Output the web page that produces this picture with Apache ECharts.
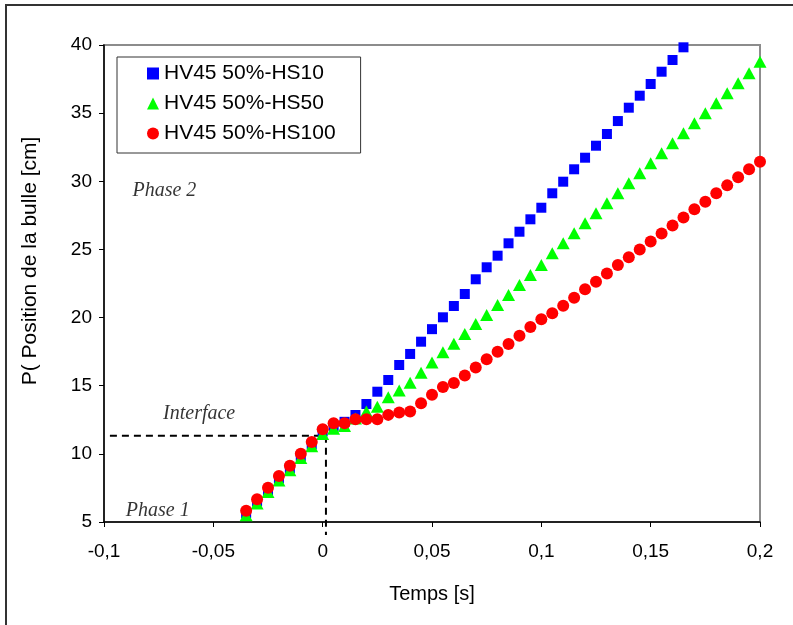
<!DOCTYPE html>
<html>
<head>
<meta charset="utf-8">
<script src="https://cdn.jsdelivr.net/npm/echarts@6/dist/echarts.min.js"></script>
<style>html,body{margin:0;padding:0;background:#fff;}#c{width:793px;height:625px;}</style>
</head>
<body>
<div id="c"></div>
<script>
// Time axis (s), shared by all series
const time = [-0.035,-0.030,-0.025,-0.020,-0.015,-0.010,-0.005,0.000,0.005,0.010,0.015,0.020,0.025,0.030,0.035,0.040,0.045,0.050,0.055,0.060,0.065,0.070,0.075,0.080,0.085,0.090,0.095,0.100,0.105,0.110,0.115,0.120,0.125,0.130,0.135,0.140,0.145,0.150,0.155,0.160,0.165,0.170,0.175,0.180,0.185,0.190,0.195,0.200];

const seriesNames = ['HV45 50%-HS10','HV45 50%-HS50','HV45 50%-HS100'];

// HV45 50%-HS10 (blue squares) – 41 points
const hs10 = [5.65,6.5,7.35,8.2,8.95,9.85,10.7,11.65,12.05,12.35,12.85,13.66,14.56,15.42,16.52,17.33,18.23,19.15,20.02,20.85,21.73,22.81,23.69,24.54,25.45,26.3,27.21,28.06,29.12,29.97,30.88,31.73,32.61,33.47,34.42,35.4,36.28,37.14,38.04,38.9,39.83];

// HV45 50%-HS50 (green triangles)
const hs50 = [5.5,6.35,7.2,8.05,8.8,9.7,10.55,11.45,11.85,12.05,12.6,13.1,13.45,14.15,14.64,15.22,15.96,16.7,17.46,18.07,18.8,19.53,20.19,20.93,21.66,22.39,23.13,23.86,24.72,25.45,26.19,26.92,27.65,28.39,29.12,29.85,30.59,31.32,32.05,32.79,33.52,34.26,34.99,35.72,36.46,37.19,37.92,38.78];

// HV45 50%-HS100 (red circles)
const hs100 = [5.83,6.67,7.52,8.38,9.12,10.0,10.87,11.8,12.24,12.24,12.54,12.54,12.54,12.86,13.03,13.1,13.72,14.33,14.9,15.2,15.75,16.33,16.94,17.5,18.06,18.67,19.3,19.87,20.31,20.87,21.45,22.07,22.63,23.24,23.85,24.42,25.0,25.58,26.17,26.76,27.35,27.94,28.5,29.12,29.7,30.29,30.88,31.44];

// Interface dashed guide lines
const interfaceT = 0.0015;
const interfaceY = 11.33;
const guideStartT = -0.0973;
const guideBottomY = 4.05;

// Annotation labels
const annotations = [
  {text: 'Phase 2', t: -0.087, y: 29.3},
  {text: 'Interface', t: -0.073, y: 12.95},
  {text: 'Phase 1', t: -0.090, y: 5.8}
];

const xTicks = {min: -0.1, max: 0.2, interval: 0.05};
const yTicks = {min: 5, max: 40, interval: 5};

const zip = (xs, ys) => ys.map((v, i) => [xs[i], v]);
const fmt = v => String(Math.round(v * 100) / 100).replace('.', ',');

const chart = echarts.init(document.getElementById('c'));
const sansFont = '"Liberation Sans", Arial, sans-serif';
const serifFont = '"Liberation Serif", "Times New Roman", serif';

const option = {
  animation: false,
  backgroundColor: '#fff',
  grid: {left: 104, right: 33, top: 45, bottom: 103, show: true, borderColor: '#8c8c8c', borderWidth: 2, backgroundColor: 'transparent'},
  xAxis: {
    type: 'value', min: xTicks.min, max: xTicks.max, interval: xTicks.interval,
    name: 'Temps [s]', nameLocation: 'middle', nameGap: 62,
    nameTextStyle: {fontFamily: sansFont, fontSize: 20, color: '#000'},
    axisLine: {show: true, onZero: false, lineStyle: {color: '#000', width: 1.5}},
    axisTick: {show: true, inside: false, length: 5, lineStyle: {color: '#000', width: 1}},
    axisLabel: {formatter: fmt, fontFamily: sansFont, fontSize: 19, color: '#000', margin: 20},
    splitLine: {show: false}
  },
  yAxis: {
    type: 'value', min: yTicks.min, max: yTicks.max, interval: yTicks.interval,
    axisLine: {show: true, onZero: false, lineStyle: {color: '#000', width: 1.5}},
    axisTick: {show: true, inside: false, length: 5, lineStyle: {color: '#000', width: 1}},
    axisLabel: {fontFamily: sansFont, fontSize: 19, color: '#000', margin: 12},
    splitLine: {show: false}
  },
  legend: {
    data: seriesNames,
    orient: 'vertical', left: 117, top: 57,
    backgroundColor: '#fff', borderColor: '#333', borderWidth: 1,
    padding: [6, 25, 9, 30],
    itemWidth: 12, itemHeight: 12, itemGap: 9,
    textStyle: {fontFamily: sansFont, fontSize: 21, color: '#000', lineHeight: 20}
  },
  graphic: [
    {type: 'rect', shape: {x: 6, y: 5, width: 900, height: 800}, style: {fill: 'none', stroke: '#333', lineWidth: 2}, z: -10, silent: true},
    {type: 'text', x: 30, y: 261, rotation: Math.PI / 2, style: {text: 'P( Position de la bulle [cm]', font: '21px "Liberation Sans", Arial, sans-serif', fill: '#000', align: 'center', verticalAlign: 'middle'}}
  ],
  series: [
    {name: seriesNames[0], type: 'scatter', symbol: 'rect', symbolSize: 10, itemStyle: {color: '#0000ff', opacity: 1}, data: zip(time, hs10), z: 3},
    {name: seriesNames[1], type: 'scatter', symbol: 'triangle', symbolSize: [13, 12], itemStyle: {color: '#00ff00', opacity: 1}, data: zip(time, hs50), z: 4},
    {name: seriesNames[2], type: 'scatter', symbol: 'circle', symbolSize: 12, itemStyle: {color: '#ff0000', opacity: 1}, data: zip(time, hs100), z: 5},
    {name: 'guideH', type: 'line', symbol: 'none', clip: false, silent: true, z: 2,
      lineStyle: {color: '#000', width: 2, type: [7, 5]},
      data: [[guideStartT, interfaceY], [interfaceT, interfaceY]]},
    {name: 'guideV', type: 'line', symbol: 'none', clip: false, silent: true, z: 2,
      lineStyle: {color: '#000', width: 2, type: [7, 5]},
      data: [[interfaceT, interfaceY], [interfaceT, guideBottomY]]},
    {name: 'labels', type: 'scatter', symbolSize: 0, silent: true, z: 6,
      data: annotations.map(a => ({value: [a.t, a.y], label: {show: true, formatter: a.text, position: 'right', distance: 0,
        fontFamily: serifFont, fontStyle: 'italic', fontSize: 20, color: '#000'}}))}
  ]
};
chart.setOption(option);
</script>
</body>
</html>
